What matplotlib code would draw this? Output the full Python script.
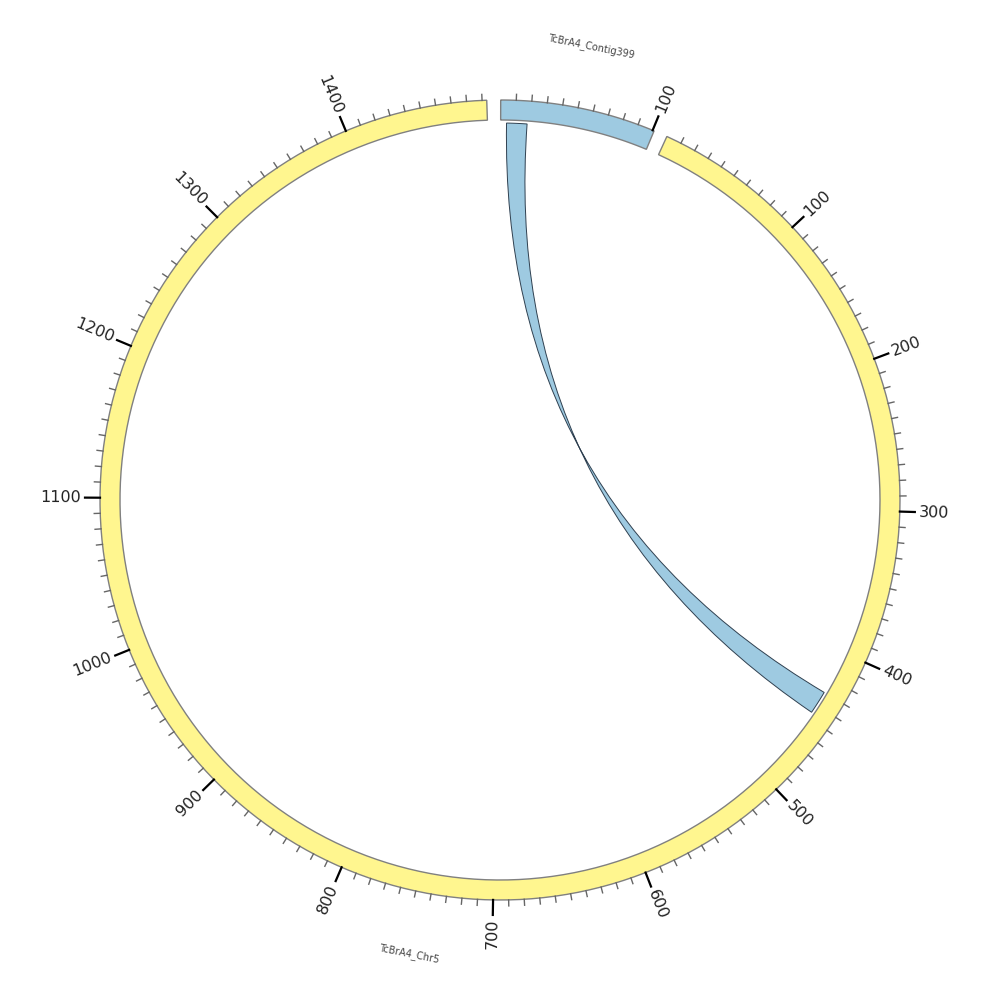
import numpy as np
import matplotlib
matplotlib.use("Agg")
import matplotlib.pyplot as plt
from matplotlib.path import Path
from matplotlib.patches import PathPatch, Polygon

# chromosomes / contigs
chrom_names = ["TcBrA4_Contig399", "TcBrA4_Chr5"]
chrom_lengths = [101, 1493]
chrom_colors = ["#9ecae1", "#fff68f"]

# link (source chrom, start, end) -> (target chrom, start, end)
link_src = ("TcBrA4_Contig399", 4, 18)
link_dst = ("TcBrA4_Chr5", 430, 446)
link_color = "#9ecae1"

minor_step = 10
major_step = 100

# layout
gap_deg = 2.0
start_deg = 0.1
r_in, r_out = 380, 400
cx, cy = 500, 500

deg_per_unit = (360 - gap_deg * len(chrom_lengths)) / sum(chrom_lengths)
offsets = {}
pos = start_deg
for name, ln in zip(chrom_names, chrom_lengths):
    offsets[name] = pos
    pos += ln * deg_per_unit + gap_deg


def ang(name, p):
    return offsets[name] + p * deg_per_unit


def xy(a, r):
    t = np.radians(a)
    return cx + r * np.sin(t), cy - r * np.cos(t)


fig = plt.figure(figsize=(10, 10), dpi=100)
ax = fig.add_axes([0, 0, 1, 1])
ax.set_xlim(0, 1000)
ax.set_ylim(1000, 0)
ax.axis("off")

for name, ln, col in zip(chrom_names, chrom_lengths, chrom_colors):
    a0, a1 = ang(name, 0), ang(name, ln)
    aa = np.linspace(a0, a1, 200)
    ox, oy = xy(aa, r_out)
    ix, iy = xy(aa[::-1], r_in)
    pts = np.column_stack([np.r_[ox, ix], np.r_[oy, iy]])
    ax.add_patch(Polygon(pts, closed=True, fc=col, ec="#808080", lw=1.0, zorder=2))

    # ticks
    for p in range(minor_step, ln + 1, minor_step):
        a = ang(name, p)
        if p % major_step == 0:
            x0, y0 = xy(a, r_out)
            x1, y1 = xy(a, r_out + 15)
            ax.plot([x0, x1], [y0, y1], color="black", lw=1.6, zorder=3)
            lx, ly = xy(a, r_out + 19)
            a_n = a % 360
            if a_n < 180:
                rot, ha = 90 - a_n, "left"
            else:
                rot, ha = 270 - a_n, "right"
            ax.text(lx, ly, str(p), rotation=rot, rotation_mode="anchor",
                    ha=ha, va="center", fontsize=11.5, color="#222222", zorder=3)
        else:
            x0, y0 = xy(a, r_out)
            x1, y1 = xy(a, r_out + 6)
            ax.plot([x0, x1], [y0, y1], color="#666666", lw=1.0, zorder=3)

    # chromosome name
    mid = (a0 + a1) / 2
    nx, ny = xy(mid, 463)
    m = mid % 360
    rot = -m if (m < 90 or m > 270) else 180 - m
    ax.text(nx, ny, name, rotation=rot, rotation_mode="anchor", ha="center",
            va="center", fontsize=7, color="#444444")

# link ribbon (twisted: start->start, end->end)
r_l = 377
s1, s2 = ang(link_src[0], link_src[1]), ang(link_src[0], link_src[2])
d1, d2 = ang(link_dst[0], link_dst[1]), ang(link_dst[0], link_dst[2])
verts, codes = [], []
arc = np.linspace(s1, s2, 20)
ax_, ay_ = xy(arc, r_l)
verts += list(zip(ax_, ay_))
codes += [Path.MOVETO] + [Path.LINETO] * (len(arc) - 1)
verts += [(cx, cy), xy(d2, r_l)]
codes += [Path.CURVE3, Path.CURVE3]
arc = np.linspace(d2, d1, 20)
bx_, by_ = xy(arc, r_l)
verts += list(zip(bx_[1:], by_[1:]))
codes += [Path.LINETO] * (len(arc) - 1)
verts += [(cx, cy), xy(s1, r_l)]
codes += [Path.CURVE3, Path.CURVE3]
verts += [(0, 0)]
codes += [Path.CLOSEPOLY]
ax.add_patch(PathPatch(Path(verts, codes), fc=link_color, ec="#2f4050", lw=0.7, zorder=1))

fig.savefig("out.png", dpi=100)
